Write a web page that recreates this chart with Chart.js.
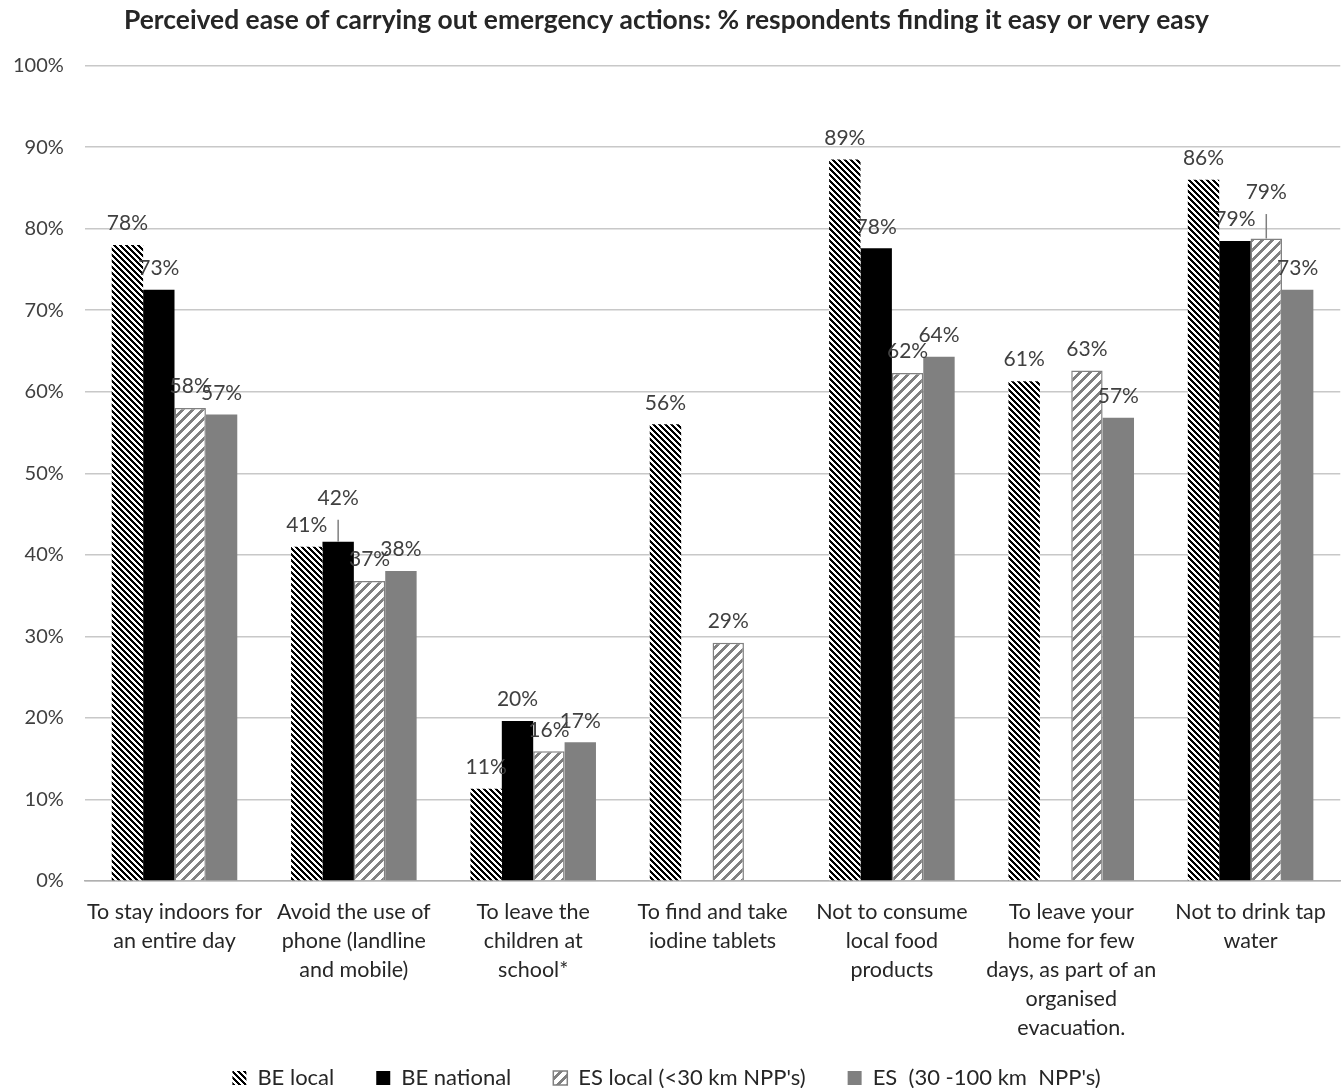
<!DOCTYPE html>
<html>
<head>
<meta charset="UTF-8">
<script src="https://cdn.jsdelivr.net/npm/chart.js"></script>
<style>
  html, body { margin: 0; padding: 0; background: #ffffff; }
  #wrap { width: 1343px; height: 1088px; }
</style>
</head>
<body>
<div id="wrap"><canvas id="chart"></canvas></div>
<script>
// categories (x-axis labels, split into lines)
const categories = [
    ['To stay indoors for', 'an entire day'],
    ['Avoid the use of', 'phone (landline', 'and mobile)'],
    ['To leave the', 'children at', 'school*'],
    ['To find and take', 'iodine tablets'],
    ['Not to consume', 'local food', 'products'],
    ['To leave your', 'home for few', 'days, as part of an', 'organised', 'evacuation.'],
    ['Not to drink tap', 'water']
];

// series values (% easy or very easy)
const beLocal    = [78.0, 41.0, 11.3, 56.0, 88.5, 61.3, 86.0];
const beNational = [72.5, 41.6, 19.6, null, 77.6, null, 78.5];
const esLocal    = [58.0, 36.8, 15.9, 29.2, 62.3, 62.6, 78.8];
const esFar      = [57.2, 38.0, 17.0, null, 64.3, 56.8, 72.5];

// printed labels
const beLocalLbl    = ['78%', '41%', '11%', '56%', '89%', '61%', '86%'];
const beNationalLbl = ['73%', '42%', '20%', '', '78%', '', '79%'];
const esLocalLbl    = ['58%', '37%', '16%', '29%', '62%', '63%', '79%'];
const esFarLbl      = ['57%', '38%', '17%', '', '64%', '57%', '73%'];

// upper ends of the small error whiskers (only two visible)
const beNationalErr = [null, 44.3, null, null, null, null, null];
const esLocalErr    = [null, null, null, null, null, null, 81.8];

const FONT = 'Lato, "Open Sans", sans-serif';

// black "\" hatch for BE local
function hatchDense() {
    const n = 6;
    const c = document.createElement('canvas');
    c.width = n; c.height = n;
    const g = c.getContext('2d');
    g.fillStyle = '#ffffff';
    g.fillRect(0, 0, n, n);
    g.fillStyle = '#000000';
    for (let y = 0; y < n; y++) {
        for (let x = 0; x < n; x++) {
            if (((x - y) % n + n) % n < 3) g.fillRect(x, y, 1, 1);
        }
    }
    return g.createPattern(c, 'repeat');
}

// wide gray "/" hatch for ES local
function hatchWide() {
    const n = 10;
    const c = document.createElement('canvas');
    c.width = n; c.height = n;
    const g = c.getContext('2d');
    g.fillStyle = '#ffffff';
    g.fillRect(0, 0, n, n);
    g.fillStyle = '#808080';
    for (let y = 0; y < n; y++) {
        for (let x = 0; x < n; x++) {
            if ((x + y) % n < 4) g.fillRect(x, y, 1, 1);
        }
    }
    return g.createPattern(c, 'repeat');
}

const labelSets = [beLocalLbl, beNationalLbl, esLocalLbl, esFarLbl];
const errSets = [null, beNationalErr, esLocalErr, null];

const barLabels = {
    id: 'barLabels',
    afterDatasetsDraw(chart) {
        const ctx = chart.ctx;
        const yScale = chart.scales.y;
        ctx.save();
        chart.data.datasets.forEach((ds, i) => {
            const meta = chart.getDatasetMeta(i);
            meta.data.forEach((bar, j) => {
                if (ds.data[j] == null) return;
                const err = errSets[i] ? errSets[i][j] : null;
                if (err != null) {
                    const top = yScale.getPixelForValue(err);
                    ctx.strokeStyle = '#7f7f7f';
                    ctx.lineWidth = 1.5;
                    ctx.beginPath();
                    ctx.moveTo(bar.x, bar.y);
                    ctx.lineTo(bar.x, top);
                    ctx.stroke();
                }
                const txt = labelSets[i][j];
                if (!txt) return;
                ctx.fillStyle = '#404040';
                ctx.font = '21px ' + FONT;
                ctx.textAlign = 'center';
                ctx.textBaseline = 'bottom';
                const yTop = err != null ? yScale.getPixelForValue(err) : bar.y;
                ctx.fillText(txt, bar.x, yTop - 11);
            });
        });
        ctx.restore();
    }
};

// keep the legend short so it sits close to the bottom edge, like the original
const legendFit = {
    id: 'legendFit',
    beforeLayout(chart) {
        const lg = chart.legend;
        if (!lg || lg._short) return;
        const fit = lg.fit;
        lg.fit = function () { fit.call(this); this.height = 28; };
        lg._short = true;
    },
    afterLayout(chart) {
        chart.legend.top -= 35;
    }
};

const barOpts = { categoryPercentage: 0.7, barPercentage: 1.0 };

new Chart(document.getElementById('chart'), {
    type: 'bar',
    data: {
        labels: categories,
        datasets: [
            Object.assign({ label: 'BE local', data: beLocal, backgroundColor: hatchDense(), borderWidth: 0 }, barOpts),
            Object.assign({ label: 'BE national', data: beNational, backgroundColor: '#000000', borderWidth: 0 }, barOpts),
            Object.assign({ label: "ES local (<30 km NPP's)", data: esLocal, backgroundColor: hatchWide(), borderColor: '#808080', borderWidth: 1.5 }, barOpts),
            Object.assign({ label: "ES  (30 -100 km  NPP's)", data: esFar, backgroundColor: '#808080', borderWidth: 0 }, barOpts)
        ]
    },
    options: {
        responsive: true,
        maintainAspectRatio: false,
        animation: false,
        layout: { padding: { left: -8, right: 2, top: 0, bottom: 0 } },
        plugins: {
            title: {
                display: true,
                text: 'Perceived ease of carrying out emergency actions: % respondents finding it easy or very easy',
                font: { family: FONT, size: 26.4, weight: 'bold' },
                color: '#262626',
                padding: { top: 5, bottom: 29 }
            },
            legend: {
                position: 'bottom',
                labels: {
                    font: { family: FONT, size: 22 },
                    color: '#262626',
                    boxWidth: 14,
                    boxHeight: 14,
                    padding: 42
                }
            },
            tooltip: { enabled: false }
        },
        scales: {
            y: {
                min: 0,
                max: 100,
                ticks: {
                    stepSize: 10,
                    callback: v => v + '%',
                    font: { family: FONT, size: 20 },
                    color: '#404040',
                    padding: 21
                },
                grid: { color: '#c8c8c8', lineWidth: 1.5, drawTicks: false },
                border: { display: false }
            },
            x: {
                ticks: {
                    font: { family: FONT, size: 21.5, lineHeight: 1.35 },
                    color: '#262626',
                    maxRotation: 0,
                    autoSkip: false,
                    padding: 17
                },
                grid: { display: false, drawTicks: false },
                border: { display: true, color: '#b0b0b0', width: 1.5 }
            }
        }
    },
    plugins: [barLabels, legendFit]
});
</script>
</body>
</html>
